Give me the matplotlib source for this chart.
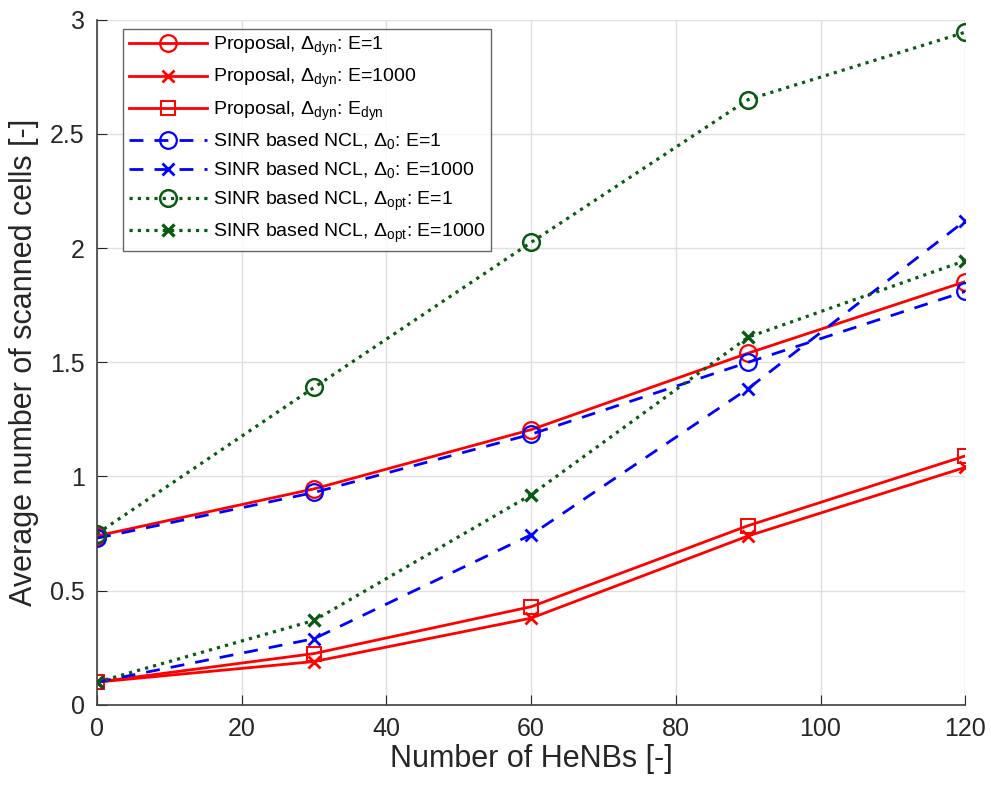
import matplotlib
matplotlib.use("Agg")
import matplotlib.pyplot as plt

plt.rcParams['font.family'] = ['Liberation Sans', 'DejaVu Sans']
plt.rcParams['mathtext.fontset'] = 'custom'
plt.rcParams['mathtext.rm'] = 'Liberation Sans'
plt.rcParams['mathtext.it'] = 'Liberation Sans:italic'
plt.rcParams['mathtext.bf'] = 'Liberation Sans:bold'

henbs = [0, 30, 60, 90, 120]
prop_e1 = [0.74, 0.946, 1.205, 1.54, 1.853]
prop_e1000 = [0.10, 0.19, 0.38, 0.74, 1.04]
prop_edyn = [0.10, 0.225, 0.43, 0.785, 1.09]
sinr0_e1 = [0.73, 0.93, 1.185, 1.50, 1.81]
sinr0_e1000 = [0.10, 0.29, 0.745, 1.385, 2.12]
sinropt_e1 = [0.75, 1.39, 2.025, 2.65, 2.945]
sinropt_e1000 = [0.10, 0.37, 0.92, 1.61, 1.945]

xticks = [0, 20, 40, 60, 80, 100, 120]
yticks = [0, 0.5, 1, 1.5, 2, 2.5, 3]
yticklabels = ['0', '0.5', '1', '1.5', '2', '2.5', '3']

labels = [r'Proposal, $\Delta_{\rm dyn}$: E=1',
          r'Proposal, $\Delta_{\rm dyn}$: E=1000',
          r'Proposal, $\Delta_{\rm dyn}$: E$_{\rm dyn}$',
          r'SINR based NCL, $\Delta_{\rm 0}$: E=1',
          r'SINR based NCL, $\Delta_{\rm 0}$: E=1000',
          r'SINR based NCL, $\Delta_{\rm opt}$: E=1',
          r'SINR based NCL, $\Delta_{\rm opt}$: E=1000']

red = '#ff0000'
blue = '#0000ff'
green = '#0b5a14'

fig = plt.figure(figsize=(9.91, 7.85), dpi=100)
ax = fig.add_axes([0.098, 0.102, 0.876, 0.873])

lw = 2.0
ms = 12
dots = (1.0, 1.6)
ax.plot(henbs, prop_e1, '-', color=red, lw=lw, marker='o', ms=ms, mfc='none', mew=1.6, label=labels[0])
ax.plot(henbs, prop_e1000, '-', color=red, lw=lw, marker='x', ms=9, mew=2, label=labels[1])
ax.plot(henbs, prop_edyn, '-', color=red, lw=lw, marker='s', ms=10, mfc='none', mew=1.4, label=labels[2])
ax.plot(henbs, sinr0_e1, '--', color=blue, lw=lw, dashes=(5, 4), marker='o', ms=ms, mfc='none', mew=1.6, label=labels[3])
ax.plot(henbs, sinr0_e1000, '--', color=blue, lw=lw, dashes=(5, 4), marker='x', ms=9, mew=2, label=labels[4])
ax.plot(henbs, sinropt_e1, ':', color=green, lw=2.3, dashes=dots, marker='o', ms=ms, mfc='none', mew=1.8, label=labels[5])
ax.plot(henbs, sinropt_e1000, ':', color=green, lw=2.3, dashes=dots, marker='x', ms=9, mew=2.4, label=labels[6])

ax.set_xlim(0, 120)
ax.set_ylim(0, 3)
ax.set_xticks(xticks)
ax.set_yticks(yticks)
ax.set_yticklabels(yticklabels)
ax.grid(True, color='#e0e0e0', lw=1)
ax.set_axisbelow(True)
ax.tick_params(direction='in', labelsize=18, length=7, colors='#262626', top=False, right=False, pad=9)
for k in ['top', 'right']:
    ax.spines[k].set_visible(False)
for k in ['left', 'bottom']:
    ax.spines[k].set_color('#404040')
    ax.spines[k].set_linewidth(1.2)
ax.set_xlabel('Number of HeNBs [-]', fontsize=22, color='#262626', labelpad=2)
ax.set_ylabel('Average number of scanned cells [-]', fontsize=22, color='#262626', labelpad=8)

leg = ax.legend(loc='upper left', bbox_to_anchor=(0.03, 0.986), fontsize=14, frameon=True,
                fancybox=False, edgecolor='#404040', handlelength=4.0, labelspacing=0.46,
                borderpad=0.3, handletextpad=0.3, borderaxespad=0)
leg.get_frame().set_linewidth(1.0)

fig.savefig('out.png', dpi=100)
